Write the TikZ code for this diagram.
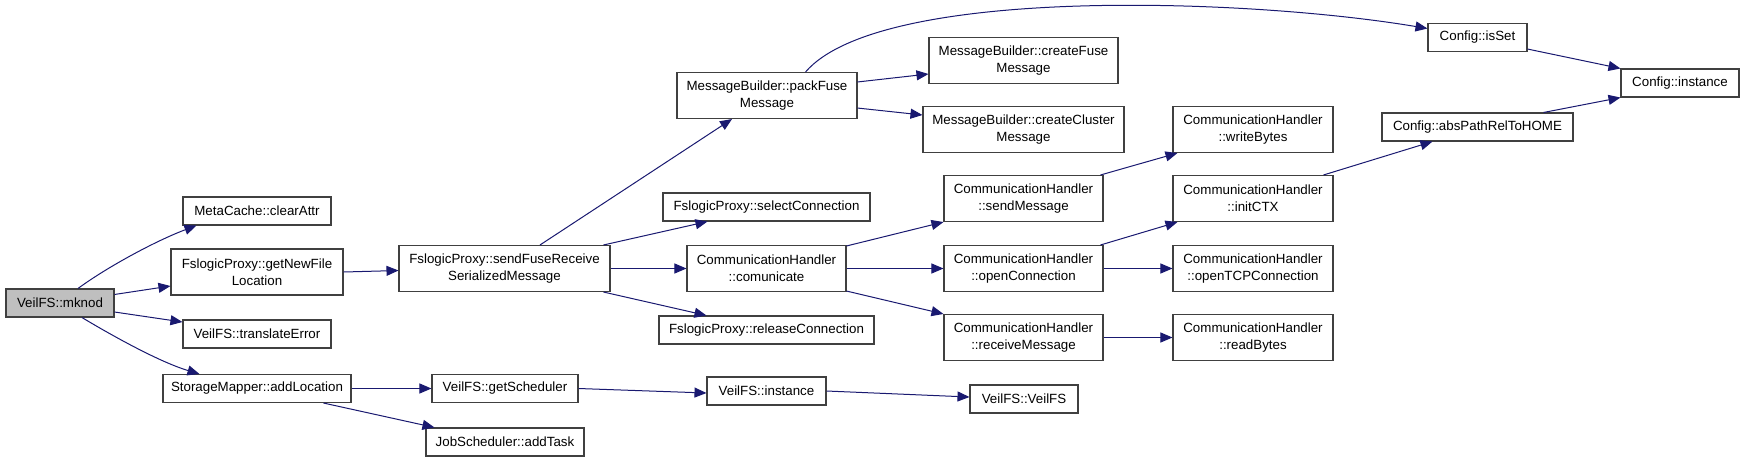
\documentclass[tikz,border=0pt]{standalone}
\usepackage{fontspec}
\setmainfont{Liberation Sans}
\usetikzlibrary{arrows.meta,calc}
\definecolor{edgeblue}{RGB}{25,25,112}
\definecolor{rootgray}{RGB}{191,191,191}
\tikzset{
  fn/.style={draw=black!75, line width=0.8pt, fill=white, inner sep=0pt, align=center, font=\fontsize{10}{13}\selectfont},
  one/.style={minimum height=21pt},
  two/.style={minimum height=34.5pt},
  call/.style={draw=edgeblue, line width=0.75pt, -{Triangle[length=9pt,width=7.5pt]}}
}
\begin{document}
\begin{tikzpicture}[x=0.75pt,y=0.75pt,yscale=-1,xscale=1]
\path[use as bounding box] (0,0) rectangle (1744,462);

% Functions
\node[fn,one,fill=rootgray,minimum width=81pt] (mknod) at (60,303) {VeilFS::mknod};
\node[fn,one,minimum width=111pt] (clearattr) at (257,211) {MetaCache::clearAttr};
\node[fn,two,minimum width=129pt] (getnewfile) at (257,272) {FslogicProxy::getNewFile\\Location};
\node[fn,one,minimum width=111pt] (translateerror) at (257,334) {VeilFS::translateError};
\node[fn,one,minimum width=141pt] (addlocation) at (257,388.5) {StorageMapper::addLocation};
\node[fn,two,minimum width=158.25pt] (sendfuse) at (504.5,268.5) {FslogicProxy::sendFuseReceive\\SerializedMessage};
\node[fn,one,minimum width=109.5pt] (getscheduler) at (505,388.5) {VeilFS::getScheduler};
\node[fn,one,minimum width=118.5pt] (addtask) at (505,442) {JobScheduler::addTask};
\node[fn,two,minimum width=135pt] (packfuse) at (767,95.5) {MessageBuilder::packFuse\\Message};
\node[fn,one,minimum width=155.25pt] (selectconn) at (766.5,207) {FslogicProxy::selectConnection};
\node[fn,two,minimum width=119.25pt] (comunicate) at (766.5,268.5) {CommunicationHandler\\::comunicate};
\node[fn,one,minimum width=161.25pt] (releaseconn) at (766.5,330) {FslogicProxy::releaseConnection};
\node[fn,one,minimum width=89.25pt] (veilinstance) at (766.5,391) {VeilFS::instance};
\node[fn,two,minimum width=141.75pt] (createfuse) at (1023.5,60.5) {MessageBuilder::createFuse\\Message};
\node[fn,two,minimum width=150.75pt] (createcluster) at (1023.5,129.5) {MessageBuilder::createCluster\\Message};
\node[fn,two,minimum width=119.25pt] (sendmessage) at (1023.5,198.5) {CommunicationHandler\\::sendMessage};
\node[fn,two,minimum width=119.25pt] (openconn) at (1023.5,268.5) {CommunicationHandler\\::openConnection};
\node[fn,two,minimum width=119.25pt] (receivemessage) at (1023.5,337.5) {CommunicationHandler\\::receiveMessage};
\node[fn,one,minimum width=81pt] (veilfs) at (1024,399) {VeilFS::VeilFS};
\node[fn,two,minimum width=120pt] (writebytes) at (1253,129.5) {CommunicationHandler\\::writeBytes};
\node[fn,two,minimum width=120pt] (initctx) at (1253,198.5) {CommunicationHandler\\::initCTX};
\node[fn,two,minimum width=120pt] (opentcp) at (1253,268.5) {CommunicationHandler\\::openTCPConnection};
\node[fn,two,minimum width=120pt] (readbytes) at (1253,337.5) {CommunicationHandler\\::readBytes};
\node[fn,one,minimum width=74.25pt] (isset) at (1477.5,37.5) {Config::isSet};
\node[fn,one,minimum width=143.25pt] (abspath) at (1477.5,127) {Config::absPathRelToHOME};
\node[fn,one,minimum width=88.5pt] (cinstance) at (1680,83) {Config::instance};

% Calls from VeilFS::mknod
\draw[call] ($(mknod.north)+(18,0)$) .. controls +(30,-22) and +(-40,15) .. ($(clearattr.south west)+(14,0)$);
\draw[call] ($(mknod.north east)+(0,6)$) -- ($(getnewfile.west)+(0,14)$);
\draw[call] ($(mknod.east)+(0,9)$) -- ($(translateerror.west)+(0,-12)$);
\draw[call] ($(mknod.south)+(22,0)$) .. controls +(30,18) and +(-40,-12) .. ($(addlocation.north west)+(37,0)$);

% Second level
\draw[call] (getnewfile.east) -- ($(sendfuse.west)+(0,2)$);
\draw[call] ($(sendfuse.north)+(35.5,0)$) -- ($(packfuse.south)+(-35,0)$);
\draw[call] ($(sendfuse.north east)+(-7,0)$) -- ($(selectconn.south west)+(45,0)$);
\draw[call] (sendfuse.east) -- (comunicate.west);
\draw[call] ($(sendfuse.south east)+(-7,0)$) -- ($(releaseconn.north west)+(48,0)$);
\draw[call] (addlocation.east) -- (getscheduler.west);
\draw[call] ($(addlocation.south east)+(-28,0)$) -- ($(addtask.north west)+(9,0)$);
\draw[call] (getscheduler.east) -- ($(veilinstance.west)+(0,2)$);
\draw[call] (veilinstance.east) -- ($(veilfs.west)+(0,-2)$);

% Message building
\draw[call] ($(packfuse.north east)+(-52,0)$) .. controls +(75,-87) and +(-178,-30) .. ($(isset.west)+(0,-9)$);
\draw[call] ($(packfuse.north east)+(0,10)$) -- ($(createfuse.west)+(0,13.5)$);
\draw[call] ($(packfuse.south east)+(0,-11)$) -- ($(createcluster.west)+(0,-14.5)$);

% Communication
\draw[call] ($(comunicate.north east)+(0,1)$) -- (sendmessage.south west);
\draw[call] (comunicate.east) -- (openconn.west);
\draw[call] ($(comunicate.south east)+(0,-1)$) -- (receivemessage.north west);
\draw[call] ($(sendmessage.north east)+(-3,0)$) -- ($(writebytes.south west)+(5,0)$);
\draw[call] ($(openconn.north east)+(-3,0)$) -- ($(initctx.south west)+(5,0)$);
\draw[call] (openconn.east) -- (opentcp.west);
\draw[call] (receivemessage.east) -- (readbytes.west);

% Config
\draw[call] ($(initctx.north east)+(-10,0)$) -- ($(abspath.south west)+(51,0)$);
\draw[call] ($(isset.south east)+(0,-3)$) -- (cinstance.north west);
\draw[call] ($(abspath.north east)+(-30,0)$) -- (cinstance.south west);

\end{tikzpicture}
\end{document}
